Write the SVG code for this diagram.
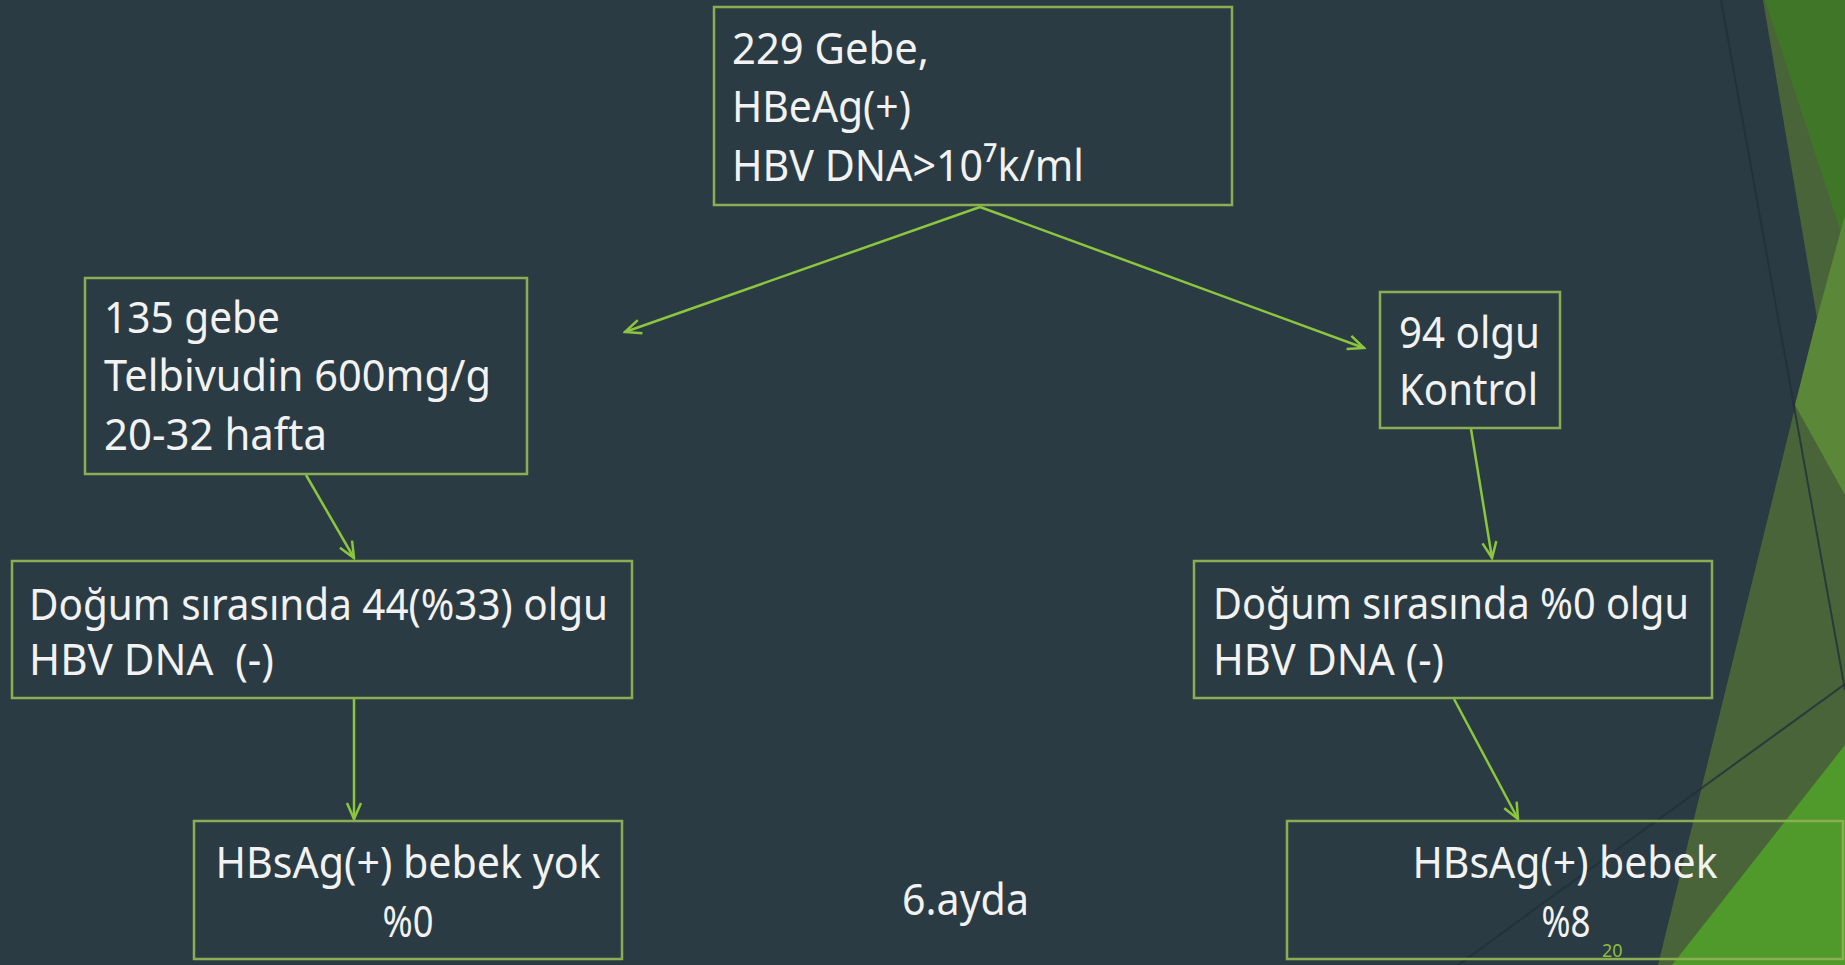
<svg xmlns="http://www.w3.org/2000/svg" width="1845" height="965" viewBox="0 0 1845 965">
<style>
.bx{fill:none;stroke:#8BAE52;stroke-width:2.5}
.t{font-family:"Noto Sans","Open Sans","DejaVu Sans",sans-serif;font-size:44px;fill:#F2F2F2}
.c{text-anchor:middle}
.cn{fill:none;stroke:#8CC63F;stroke-width:2.5}
.dl{fill:none;stroke:#22303A;stroke-width:2;opacity:0.8}
</style>
<defs>
<marker id="arr" viewBox="0 0 20 20" refX="18" refY="10" markerWidth="20" markerHeight="20" markerUnits="userSpaceOnUse" orient="auto">
<path d="M2,3 L18,10 L2,17" fill="none" stroke="#8CC63F" stroke-width="2.5"/>
</marker>
</defs>
<g id="background">
<rect x="0" y="0" width="1845" height="965" fill="#2B3B43"/>
<polygon points="1763,0 1845,0 1845,965 1658,965 1817,318" fill="#4A6439"/>
<polygon points="1765,0 1845,0 1845,245" fill="#3F7627"/>
<polygon points="1845,215 1817,318 1795,405 1845,495" fill="#5A8738"/>
<polygon points="1845,745 1845,965 1672,965" fill="#4F9A2A"/>
<line class="dl" x1="1721" y1="0" x2="1845" y2="690"/>
<line class="dl" x1="1458" y1="965" x2="1845" y2="684"/>
</g>
<g id="connectors">
<line class="cn" x1="980" y1="207" x2="625" y2="332" marker-end="url(#arr)"/>
<line class="cn" x1="980" y1="207" x2="1364" y2="348" marker-end="url(#arr)"/>
<line class="cn" x1="306" y1="475" x2="354" y2="558" marker-end="url(#arr)"/>
<line class="cn" x1="1471" y1="429" x2="1492" y2="558" marker-end="url(#arr)"/>
<line class="cn" x1="354" y1="699" x2="354" y2="819" marker-end="url(#arr)"/>
<line class="cn" x1="1454" y1="699" x2="1518" y2="819" marker-end="url(#arr)"/>
</g>
<g id="n-top">
<rect class="bx" x="714" y="7" width="518" height="198"/>
<text class="t" x="732" y="64" textLength="197" lengthAdjust="spacingAndGlyphs">229 Gebe,</text>
<text class="t" x="732" y="122" textLength="179" lengthAdjust="spacingAndGlyphs">HBeAg(+)</text>
<text class="t" x="732" y="181" textLength="352" lengthAdjust="spacingAndGlyphs">HBV DNA&gt;10⁷k/ml</text>
</g>
<g id="n-treat">
<rect class="bx" x="85" y="278" width="442" height="196"/>
<text class="t" x="104" y="333" textLength="176" lengthAdjust="spacingAndGlyphs">135 gebe</text>
<text class="t" x="104" y="391" textLength="387" lengthAdjust="spacingAndGlyphs">Telbivudin 600mg/g</text>
<text class="t" x="104" y="450" textLength="223" lengthAdjust="spacingAndGlyphs">20-32 hafta</text>
</g>
<g id="n-control">
<rect class="bx" x="1380" y="292" width="180" height="136"/>
<text class="t" x="1399" y="348" textLength="141" lengthAdjust="spacingAndGlyphs">94 olgu</text>
<text class="t" x="1399" y="405" textLength="139" lengthAdjust="spacingAndGlyphs">Kontrol</text>
</g>
<g id="n-birth-left">
<rect class="bx" x="12" y="561" width="620" height="137"/>
<text class="t" x="29" y="620" textLength="579" lengthAdjust="spacingAndGlyphs">Doğum sırasında 44(%33) olgu</text>
<text class="t" x="29" y="675" textLength="245" lengthAdjust="spacingAndGlyphs" xml:space="preserve">HBV DNA  (-)</text>
</g>
<g id="n-birth-right">
<rect class="bx" x="1194" y="561" width="518" height="137"/>
<text class="t" x="1213" y="619" textLength="476" lengthAdjust="spacingAndGlyphs">Doğum sırasında %0 olgu</text>
<text class="t" x="1213" y="675" textLength="231" lengthAdjust="spacingAndGlyphs">HBV DNA (-)</text>
</g>
<g id="n-result-left">
<rect class="bx" x="194" y="821" width="428" height="138"/>
<text class="t c" x="408" y="878" textLength="385" lengthAdjust="spacingAndGlyphs">HBsAg(+) bebek yok</text>
<text class="t c" x="408" y="937" textLength="51" lengthAdjust="spacingAndGlyphs">%0</text>
</g>
<g id="n-result-right">
<rect class="bx" x="1287" y="821" width="556" height="138"/>
<text class="t c" x="1565" y="878" textLength="305" lengthAdjust="spacingAndGlyphs">HBsAg(+) bebek</text>
<text class="t c" x="1566" y="937" textLength="49" lengthAdjust="spacingAndGlyphs">%8</text>
</g>
<g id="label-month">
<text class="t" x="902" y="915" textLength="127" lengthAdjust="spacingAndGlyphs">6.ayda</text>
</g>
<g id="page-number">
<text x="1602" y="957" font-family="Noto Sans, sans-serif" font-size="18" fill="#8DBE3F">20</text>
</g>
</svg>
